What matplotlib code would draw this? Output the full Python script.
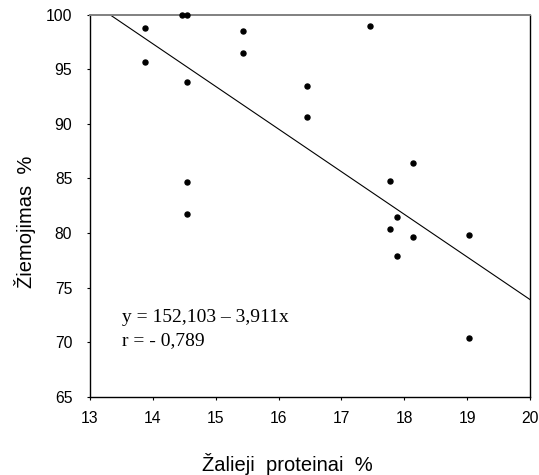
import numpy as np
import matplotlib
matplotlib.use("Agg")
import matplotlib.pyplot as plt

# crude protein content (%) and winter survival (%) per sample
protein = [13.88, 13.88, 14.47, 14.54, 14.54, 14.55, 14.55, 15.44, 15.44, 16.45,
           16.45, 17.46, 18.13, 17.77, 17.88, 17.77, 18.13, 17.88, 19.02, 19.02]
survival = [98.8, 95.7, 100.0, 100.0, 93.8, 84.7, 81.7, 98.5, 96.5, 93.5,
            90.6, 99.0, 86.4, 84.8, 81.5, 80.4, 79.6, 77.9, 79.8, 70.4]

# regression reported for the data
intercept = 152.103
slope = -3.911
r_value = -0.789

x_ticks = [13, 14, 15, 16, 17, 18, 19, 20]
y_ticks = [65, 70, 75, 80, 85, 90, 95, 100]

sans = "Liberation Sans"
serif = "Liberation Serif"

fig = plt.figure(figsize=(5.39, 4.75), dpi=100)
ax = fig.add_axes([0.1664, 0.1648, 0.8175, 0.8042])

ax.plot(protein, survival, "o", color="black", markersize=3.6, clip_on=False, zorder=3)

xl = np.array([13.0, 20.0])
ax.plot(xl, intercept + slope * xl, color="black", linewidth=0.8)

ax.set_xlim(13, 20)
ax.set_ylim(65, 100)
ax.set_xticks(x_ticks)
ax.set_yticks(y_ticks)
ax.tick_params(direction="out", length=2.5, width=0.8, labelsize=11.3)
ax.tick_params(axis="x", pad=8)
ax.tick_params(axis="y", pad=10)
for lab in ax.get_xticklabels() + ax.get_yticklabels():
    lab.set_fontfamily(sans)

for side in ["left", "bottom", "right"]:
    ax.spines[side].set_linewidth(1.0)
    ax.spines[side].set_color("black")
ax.spines["top"].set_linewidth(1.4)
ax.spines["top"].set_color("#808080")

ax.set_xlabel("Žalieji  proteinai  %", fontfamily=sans, fontsize=14.5)
ax.set_ylabel("Žiemojimas  %", fontfamily=sans, fontsize=14.5)
ax.xaxis.set_label_coords(0.448, -0.147)
ax.yaxis.set_label_coords(-0.121, 0.457)

def fmt(v):
    return f"{v:.3f}".replace(".", ",")

ax.text(13.52, 71.84, f"y = {fmt(intercept)} – {fmt(-slope)}x",
        fontfamily=serif, fontsize=14, va="baseline")
ax.text(13.52, 69.73, f"r = - {fmt(-r_value)}",
        fontfamily=serif, fontsize=14, va="baseline")

fig.savefig("out.png", dpi=100)
